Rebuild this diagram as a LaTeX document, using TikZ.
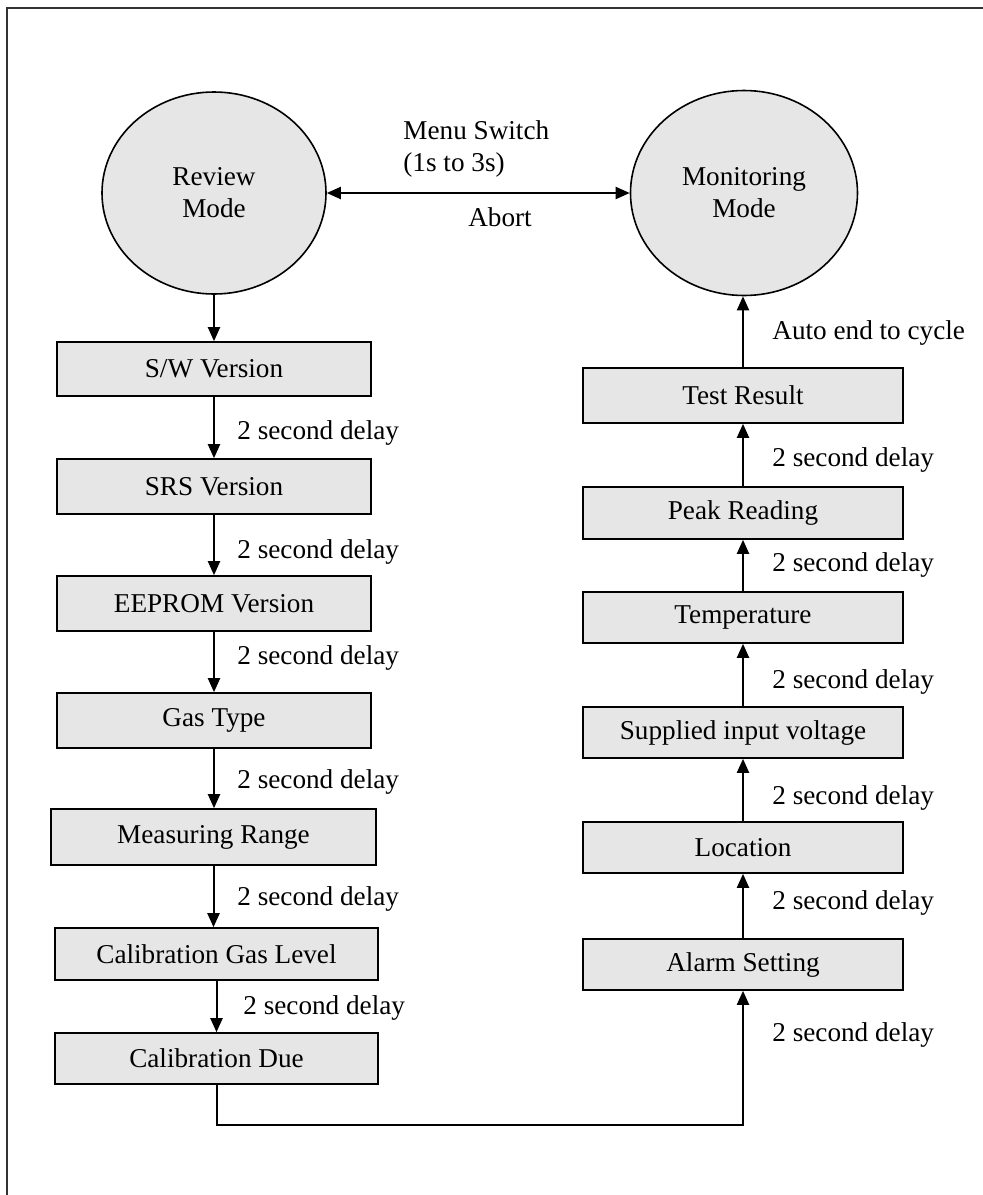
\documentclass[tikz,border=0pt]{standalone}
\usepackage{fontspec}
\setmainfont{Liberation Serif}
\usetikzlibrary{shapes.geometric,arrows.meta,calc}
\definecolor{boxfill}{RGB}{230,230,230}
\begin{document}
\begin{tikzpicture}[x=0.5pt,y=-0.5pt,
  font=\fontsize{13.6}{16}\selectfont,
  box/.style={draw=black, line width=0.8pt, fill=boxfill, inner sep=0pt, minimum width=#1, minimum height=26pt},
  box/.default=160pt,
  oval/.style={ellipse, draw=black, line width=0.8pt, fill=boxfill, inner sep=0pt, align=center},
  lbl/.style={anchor=west, inner sep=0pt},
  arr/.style={line width=1pt, -{Triangle[length=7pt,width=6pt]}}
]
\useasboundingbox (0,0) rectangle (982,1195);
\draw[line width=0.6pt, black!80] (7,1200) -- (7,8) -- (990,8);

% modes
\node[oval, minimum width=112pt, minimum height=101pt] (review) at (214,193) {Review\\Mode};
\node[oval, minimum width=113.5pt, minimum height=102.5pt] (monitor) at (744,193) {Monitoring\\Mode};
\draw[line width=1pt, {Triangle[length=7pt,width=6pt]}-{Triangle[length=7pt,width=6pt]}] (review.east) -- (monitor.west);
\node[anchor=west, inner sep=0pt, align=left] (menu) at (403,149) {Menu Switch\\(1s to 3s)};
\node[inner sep=0pt] (abort) at (500,217) {Abort};

% left column
\node[box=157pt, minimum height=27pt] (sw) at (214,369) {S/W Version};
\node[box=157pt, minimum height=27.5pt] (srs) at (214,486.5) {SRS Version};
\node[box=157pt, minimum height=27.5pt] (eeprom) at (214,603.5) {EEPROM Version};
\node[box=157pt, minimum height=27.5pt] (gas) at (214,720.5) {Gas Type};
\node[box=162.5pt, minimum height=28pt] (meas) at (213.5,837) {Measuring Range};
\node[box=161.5pt, minimum height=26pt] (calgas) at (216.5,954) {Calibration Gas Level};
\node[box=161.5pt, minimum height=25.5pt] (caldue) at (216.5,1058.5) {Calibration Due};

% right column
\node[box=160pt, minimum height=27.5pt] (test) at (743,395.5) {Test Result};
\node[box=160pt, minimum height=26pt] (peak) at (743,513) {Peak Reading};
\node[box=160pt, minimum height=25.5pt] (temp) at (743,617.5) {Temperature};
\node[box=160pt, minimum height=25.5pt] (supp) at (743,732.5) {Supplied input voltage};
\node[box=160pt, minimum height=25.5pt] (loc) at (743,847.5) {Location};
\node[box=160pt, minimum height=25.5pt] (alarm) at (743,964.5) {Alarm Setting};

% left arrows
\draw[arr] (review.south) -- (sw.north);
\draw[arr] (sw.south) -- (srs.north);
\draw[arr] (srs.south) -- (eeprom.north);
\draw[arr] (eeprom.south) -- (gas.north);
\draw[arr] (gas.south) -- (gas.south |- meas.north);
\draw[arr] (meas.south) -- (meas.south |- calgas.north);
\draw[arr] (calgas.south) -- (caldue.north);
\coordinate (bend) at (216.5,1125);
\draw[arr] (caldue.south) -- (bend) -| (alarm.south);

% right arrows
\draw[arr] (alarm.north) -- (loc.south);
\draw[arr] (loc.north) -- (supp.south);
\draw[arr] (supp.north) -- (temp.south);
\draw[arr] (temp.north) -- (peak.south);
\draw[arr] (peak.north) -- (test.south);
\draw[arr] (test.north) -- (test.north |- monitor.south);

% labels
\node[lbl] (l1) at (237,433) {2 second delay};
\node[lbl] (l2) at (237,552) {2 second delay};
\node[lbl] (l3) at (237,658) {2 second delay};
\node[lbl] (l4) at (237,782) {2 second delay};
\node[lbl] (l5) at (237,899) {2 second delay};
\node[lbl] (l6) at (243,1008) {2 second delay};

\node[lbl] (auto) at (772,333) {Auto end to cycle};
\node[lbl] (r1) at (772,460) {2 second delay};
\node[lbl] (r2) at (772,565) {2 second delay};
\node[lbl] (r3) at (772,682) {2 second delay};
\node[lbl] (r4) at (772,798) {2 second delay};
\node[lbl] (r5) at (772,903) {2 second delay};
\node[lbl] (r6) at (772,1035) {2 second delay};
\end{tikzpicture}
\end{document}
